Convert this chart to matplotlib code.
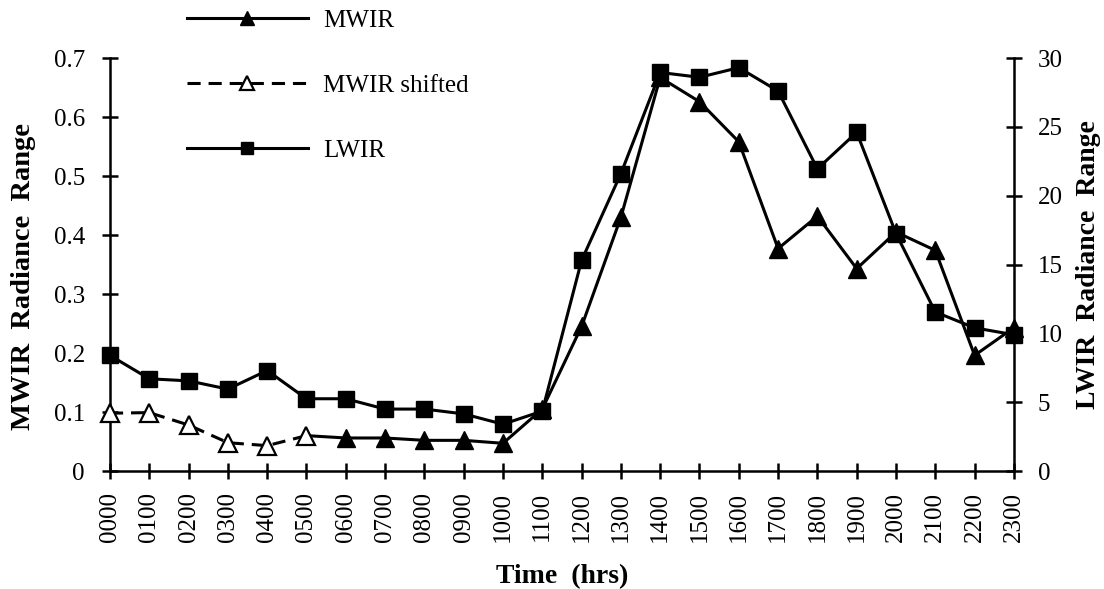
import matplotlib
matplotlib.use("Agg")
import matplotlib.pyplot as plt

plt.rcParams["font.family"] = ["Liberation Serif", "DejaVu Serif"]

HOURS = list(range(24))
HOUR_LABELS = [f"{h:02d}00" for h in HOURS]

# MWIR radiance range (left axis); first six points are the shifted values
MWIR_SHIFTED = [0.098, 0.099, 0.078, 0.048, 0.043, 0.060]
MWIR = [0.060, 0.056, 0.056, 0.052, 0.052, 0.047, 0.105, 0.245, 0.430, 0.667,
        0.626, 0.558, 0.377, 0.432, 0.343, 0.405, 0.374, 0.196, 0.243]
MWIR_START = 5

# LWIR radiance range (right axis)
LWIR = [8.4, 6.7, 6.55, 5.95, 7.3, 5.25, 5.25, 4.5, 4.5, 4.15, 3.4, 4.35,
        15.3, 21.6, 28.95, 28.6, 29.3, 27.6, 21.95, 24.6, 17.25, 11.55, 10.4, 9.9]

fig = plt.figure(figsize=(11.04, 5.89), dpi=100)
ax = fig.add_axes([0.0996, 0.2003, 0.8188, 0.7012])
ax2 = ax.twinx()

lw = 2.2
mwir_x = HOURS[MWIR_START:MWIR_START + len(MWIR)]
l_mwir, = ax.plot(mwir_x, MWIR, color="black", linewidth=lw, marker="^", markersize=13,
                  markevery=list(range(1, len(MWIR))), label="MWIR", clip_on=False, zorder=3)
l_shift, = ax.plot(HOURS[:len(MWIR_SHIFTED)], MWIR_SHIFTED, color="black", linewidth=lw,
                   dashes=(4.3, 2.6), marker="^", markersize=13, markerfacecolor="white",
                   markeredgewidth=1.6, label="MWIR shifted", clip_on=False, zorder=4)
l_lwir, = ax2.plot(HOURS, LWIR, color="black", linewidth=lw, marker="s", markersize=11.5,
                   label="LWIR", clip_on=False, zorder=3)

ax.set_xlim(0, 23)
ax.set_ylim(0, 0.7)
ax2.set_ylim(0, 30)
ax.set_xticks(HOURS)
ax.set_xticklabels(HOUR_LABELS, rotation=90)
ax.set_yticks([0, 0.1, 0.2, 0.3, 0.4, 0.5, 0.6, 0.7])
ax.set_yticklabels(["0", "0.1", "0.2", "0.3", "0.4", "0.5", "0.6", "0.7"])
ax2.set_yticks([0, 5, 10, 15, 20, 25, 30])

for a in (ax, ax2):
    a.spines["top"].set_visible(False)
    for s in a.spines.values():
        s.set_linewidth(1.8)
    a.tick_params(direction="inout", length=12, width=1.8, labelsize=18)
ax.spines["right"].set_visible(False)
ax2.spines["left"].set_visible(False)
ax2.spines["bottom"].set_visible(False)
ax.tick_params(axis="y", pad=12)
ax.tick_params(axis="x", pad=9)
ax2.tick_params(axis="y", pad=11)

ax.set_ylabel("MWIR  Radiance  Range", fontsize=20.5, fontweight="bold", labelpad=13)
ax.yaxis.label.set_y(0.47)
ax2.set_ylabel("LWIR  Radiance  Range", fontsize=20, fontweight="bold", labelpad=10)
ax.set_xlabel("Time  (hrs)", fontsize=20, fontweight="bold", labelpad=16)

fig.legend([l_mwir, l_shift, l_lwir], ["MWIR", "MWIR shifted", "LWIR"],
           loc="upper left", bbox_to_anchor=(0.1603, 1.0015), frameon=False,
           fontsize=18, handlelength=4.84, handletextpad=0.6, labelspacing=1.7,
           borderaxespad=0, markerscale=0.78)

fig.savefig("out.png", dpi=100)
